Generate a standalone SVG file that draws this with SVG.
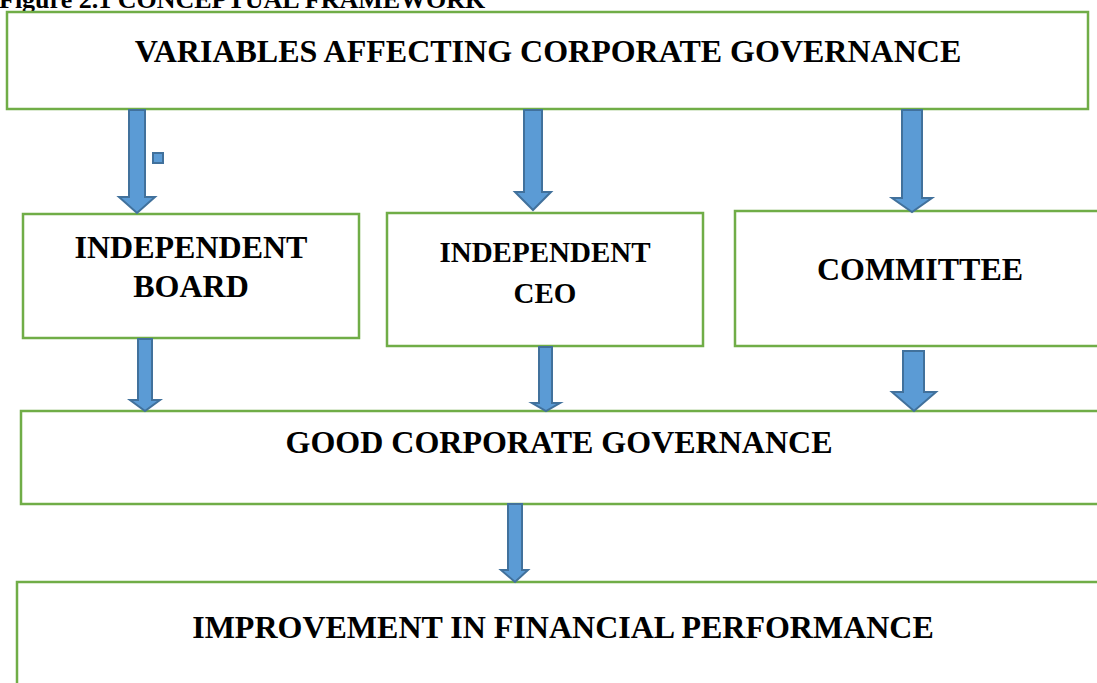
<svg xmlns="http://www.w3.org/2000/svg" width="1097" height="683" viewBox="0 0 1097 683">
  <defs>
    <style>
      .box { fill: #ffffff; stroke: #70ad47; stroke-width: 2.5; }
      .arrow { fill: #5b9bd5; stroke: #41719c; stroke-width: 2; stroke-linejoin: miter; }
      .lbl { font-family: "Liberation Serif", "Times New Roman", serif; font-weight: bold; fill: #000000; text-anchor: middle; }
      .big { font-size: 32px; }
      .mid { font-size: 29px; }
      .title { font-family: "Liberation Serif", "Times New Roman", serif; font-weight: bold; font-size: 26px; fill: #000000; }
    </style>
  </defs>

  <rect width="1097" height="683" fill="#ffffff"/>

  <!-- figure caption, clipped by the page top -->
  <text class="title" x="-1" y="8">Figure 2.1 CONCEPTUAL FRAMEWORK</text>

  <!-- boxes -->
  <g id="variables">
    <rect class="box" x="7" y="12" width="1081" height="97"/>
    <text class="lbl big" x="548" y="62">VARIABLES AFFECTING CORPORATE GOVERNANCE</text>
  </g>

  <g id="independent-board">
    <rect class="box" x="23" y="214" width="336" height="124"/>
    <text class="lbl big" x="191" y="258">INDEPENDENT</text>
    <text class="lbl big" x="191" y="297">BOARD</text>
  </g>

  <g id="independent-ceo">
    <rect class="box" x="387" y="213" width="316" height="133"/>
    <text class="lbl mid" x="545" y="262">INDEPENDENT</text>
    <text class="lbl mid" x="545" y="303">CEO</text>
  </g>

  <g id="committee">
    <rect class="box" x="735" y="211" width="380" height="135"/>
    <text class="lbl big" x="920" y="280">COMMITTEE</text>
  </g>

  <g id="good-governance">
    <rect class="box" x="21" y="411" width="1100" height="93"/>
    <text class="lbl big" x="559" y="453">GOOD CORPORATE GOVERNANCE</text>
  </g>

  <g id="financial-performance">
    <rect class="box" x="17" y="582" width="1104" height="120"/>
    <text class="lbl big" x="563" y="638">IMPROVEMENT IN FINANCIAL PERFORMANCE</text>
  </g>

  <!-- block arrows -->
  <g id="connectors">
    <polygon class="arrow" points="129,110 145,110 145,197 155,197 137,213 119,197 129,197"/>
    <rect class="arrow" x="153" y="153" width="10" height="10" stroke-width="1.5"/>
    <polygon class="arrow" points="524,110 542,110 542,192 551,192 533,210 515,192 524,192"/>
    <polygon class="arrow" points="902,110 922,110 922,198 932,198 912,212 892,198 902,198"/>
    <polygon class="arrow" points="138,339 152,339 152,400 160,400 145,411 130,400 138,400"/>
    <polygon class="arrow" points="539,347 552,347 552,403 560,403 546,411 532,403 539,403"/>
    <polygon class="arrow" points="903,351 924,351 924,392 936,392 914,411 892,392 903,392"/>
    <polygon class="arrow" points="508,504 522,504 522,570 528,570 515,582 501,570 508,570"/>
  </g>
</svg>
